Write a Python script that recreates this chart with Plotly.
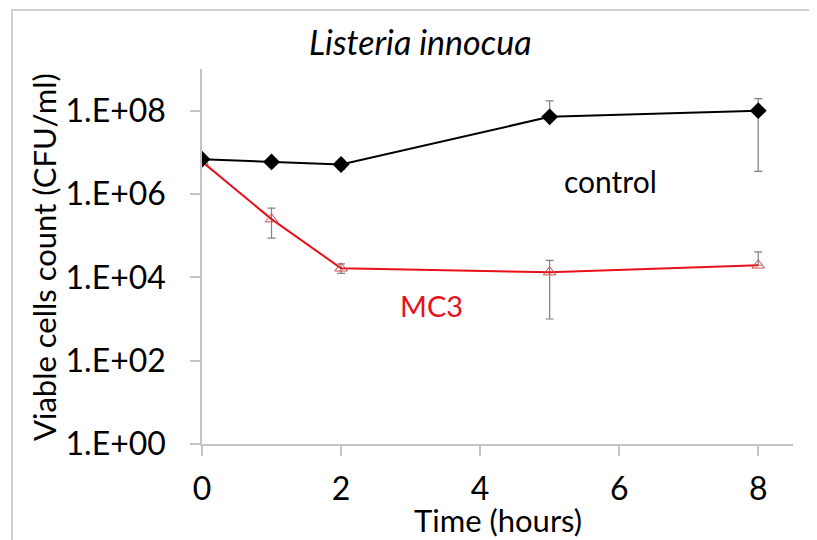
import plotly.graph_objects as go

hours = [0, 1, 2, 5, 8]
control = [6.8e6, 5.9e6, 5.1e6, 7.1e7, 1.0e8]
control_err_plus = [0.3e6, 0.4e6, 1.3e6, 1.0e8, 0.95e8]
control_err_minus = [0.3e6, 0.4e6, 1.2e6, 0.0, 0.965e8]
mc3 = [6.0e6, 2.5e5, 1.65e4, 1.33e4, 1.95e4]
mc3_err_plus = [0.3e6, 2.07e5, 0.45e4, 1.23e4, 2.15e4]
mc3_err_minus = [0.3e6, 1.63e5, 0.4e4, 1.23e4, 0.0]
x_ticks = [0, 2, 4, 6, 8]
y_ticks = [1, 1e2, 1e4, 1e6, 1e8]
y_ticktext = ["1.E+00", "1.E+02", "1.E+04", "1.E+06", "1.E+08"]

FONT = "Lato, 'Open Sans', sans-serif"
GREY = "#c4c4c4"
ERR = "#808080"

fig = go.Figure()
fig.add_trace(go.Scatter(
    x=hours, y=mc3, mode="lines+markers", name="MC3",
    line=dict(color="#e8101a", width=2),
    marker=dict(symbol="triangle-up-open", size=11, color="#cc4b4b", line=dict(width=1)),
    error_y=dict(type="data", symmetric=False, array=mc3_err_plus, arrayminus=mc3_err_minus,
                 color=ERR, thickness=1.2, width=4),
))
fig.add_trace(go.Scatter(
    x=hours, y=control, mode="lines+markers", name="control",
    line=dict(color="#000000", width=2),
    marker=dict(symbol="diamond", size=13, color="#000000"),
    error_y=dict(type="data", symmetric=False, array=control_err_plus, arrayminus=control_err_minus,
                 color=ERR, thickness=1.2, width=4),
))

fig.update_layout(
    width=817, height=540,
    margin=dict(l=194, r=32, t=61, b=104),
    paper_bgcolor="white", plot_bgcolor="white",
    showlegend=False,
    font=dict(family=FONT, size=32, color="#000000"),
    xaxis=dict(
        range=[0, 8.5], tickvals=x_ticks, showgrid=False, zeroline=False, automargin=False,
        showline=True, linecolor=GREY, linewidth=1.5,
        ticks="outside", ticklen=10, tickcolor=GREY, tickwidth=1.5,
        tickfont=dict(family=FONT, size=32), ticklabelstandoff=6,
    ),
    yaxis=dict(
        type="log", range=[0, 9], tickvals=y_ticks, ticktext=y_ticktext,
        showgrid=False, zeroline=False, automargin=False,
        showline=True, linecolor=GREY, linewidth=1.5,
        ticks="outside", ticklen=10, tickcolor=GREY, tickwidth=1.5,
        tickfont=dict(family=FONT, size=32), ticklabelstandoff=18,
    ),
    annotations=[
        dict(text="Listeria innocua", xref="paper", yref="paper", x=0.369, y=1.072,
             xanchor="center", yanchor="middle", showarrow=False,
             font=dict(family=FONT, size=34, style="italic", color="#000000")),
        dict(text="Time (hours)", xref="paper", yref="paper", x=0.5, y=-0.2027,
             xanchor="center", yanchor="middle", showarrow=False,
             font=dict(family=FONT, size=31, color="#000000")),
        dict(text="Viable cells count (CFU/ml)", xref="paper", yref="paper", x=-0.2682, y=0.5,
             xanchor="center", yanchor="middle", showarrow=False, textangle=-90,
             font=dict(family=FONT, size=31, color="#000000")),
        dict(text="control", x=5.87, y=6.31, xanchor="center", yanchor="middle",
             showarrow=False, font=dict(family=FONT, size=30, color="#000000")),
        dict(text="MC3", x=3.3, y=3.33, xanchor="center", yanchor="middle",
             showarrow=False, font=dict(family=FONT, size=29, color="#e8101a")),
    ],
    shapes=[
        dict(type="rect", xref="paper", yref="paper", x0=-0.3215, x1=1.12, y0=-0.32, y1=1.1573,
             line=dict(color="#c0c0c0", width=1.5), fillcolor="rgba(0,0,0,0)", layer="below"),
    ],
)

fig.write_html("out.html")
